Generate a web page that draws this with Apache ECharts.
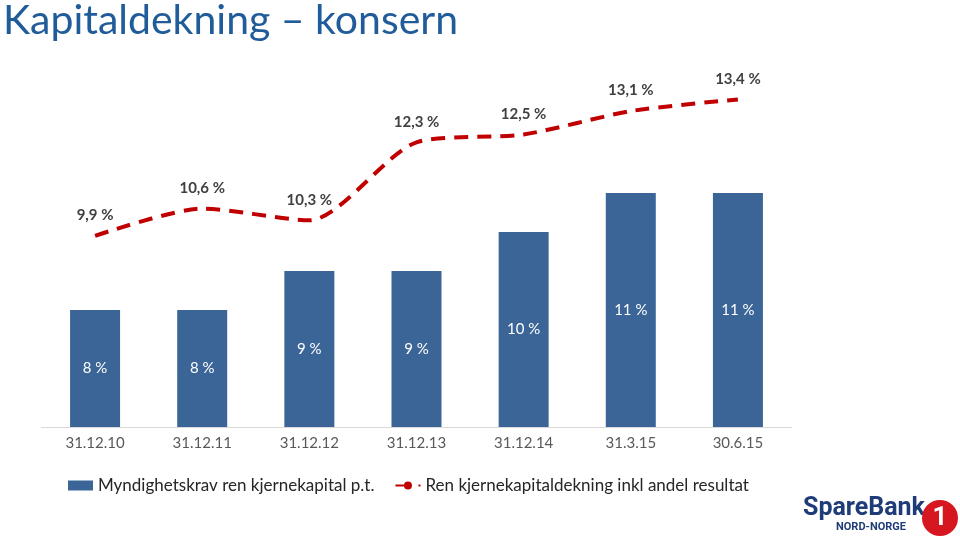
<!DOCTYPE html>
<html><head><meta charset="utf-8">
<script src="https://cdn.jsdelivr.net/npm/echarts@6/dist/echarts.min.js"></script>
<style>html,body{margin:0;padding:0;background:#fff}#c{width:960px;height:537px}</style>
</head><body><div id="c"></div>
<script>
const categories = ['31.12.10','31.12.11','31.12.12','31.12.13','31.12.14','31.3.15','30.6.15'];
const barValues = [8, 8, 9, 9, 10, 11, 11];
const lineValues = [9.9, 10.6, 10.3, 12.3, 12.5, 13.1, 13.4];
const barName = 'Myndighetskrav ren kjernekapital p.t.';
const lineName = 'Ren kjernekapitaldekning inkl andel resultat';
const fmt = v => String(v).replace('.', ',') + ' %';

const chart = echarts.init(document.getElementById('c'));
chart.setOption({
  animation: false,
  textStyle: { fontFamily: 'Lato, "Open Sans", sans-serif' },
  title: {
    text: 'Kapitaldekning – konsern', left: -2, top: -5,
    textStyle: { fontSize: 41, fontWeight: 'normal', color: '#1f5c99', fontFamily: 'Lato, "Open Sans", sans-serif' }
  },
  grid: { left: 41.5, right: 168.5, top: 76, bottom: 110, containLabel: false },
  xAxis: {
    type: 'category', data: categories,
    axisLine: { lineStyle: { color: '#d9d9d9', width: 1 } },
    axisTick: { show: false },
    axisLabel: { color: '#595959', fontSize: 15, margin: 9 }
  },
  yAxis: { type: 'value', min: 5, max: 14, show: false, splitLine: { show: false } },
  legend: {
    left: 63, top: 472, itemGap: 20, itemWidth: 25, itemHeight: 10,
    textStyle: { fontSize: 17, color: '#262626' },
    data: [{ name: barName, icon: 'rect' }, { name: lineName }]
  },
  series: [
    {
      name: barName, type: 'bar', data: barValues, barWidth: 50,
      itemStyle: { color: '#3b6596' },
      label: { show: true, position: 'inside', color: '#ffffff', fontSize: 15, formatter: p => fmt(p.value) }
    },
    {
      name: lineName, type: 'line', data: lineValues, smooth: 0.25,
      symbol: 'circle', symbolSize: 0, showSymbol: true,
      lineStyle: { color: '#c00000', width: 4, type: [14, 9] },
      itemStyle: { color: '#c00000' },
      label: { show: true, position: 'top', distance: 13, color: '#404040', fontSize: 15, fontWeight: 'bold', formatter: p => fmt(p.value) }
    }
  ],
  graphic: [
    { type: 'text', left: 803, top: 496, style: { text: 'SpareBank', fontSize: 25, fontWeight: 'bold', fill: '#1f3c78', fontFamily: 'Roboto, sans-serif' } },
    { type: 'text', left: 836, top: 522, style: { text: 'NORD-NORGE', fontSize: 11, fontWeight: 'bold', fill: '#1f3c78', fontFamily: 'Roboto, sans-serif' } },
    { type: 'circle', shape: { cx: 940, cy: 518, r: 18 }, style: { fill: '#d7171f' } },
    { type: 'text', x: 940, y: 518, style: { text: '1', fontSize: 26, fontWeight: 'bold', fill: '#ffffff', align: 'center', verticalAlign: 'middle', fontFamily: 'Roboto, sans-serif' } }
  ]
});
</script></body></html>
